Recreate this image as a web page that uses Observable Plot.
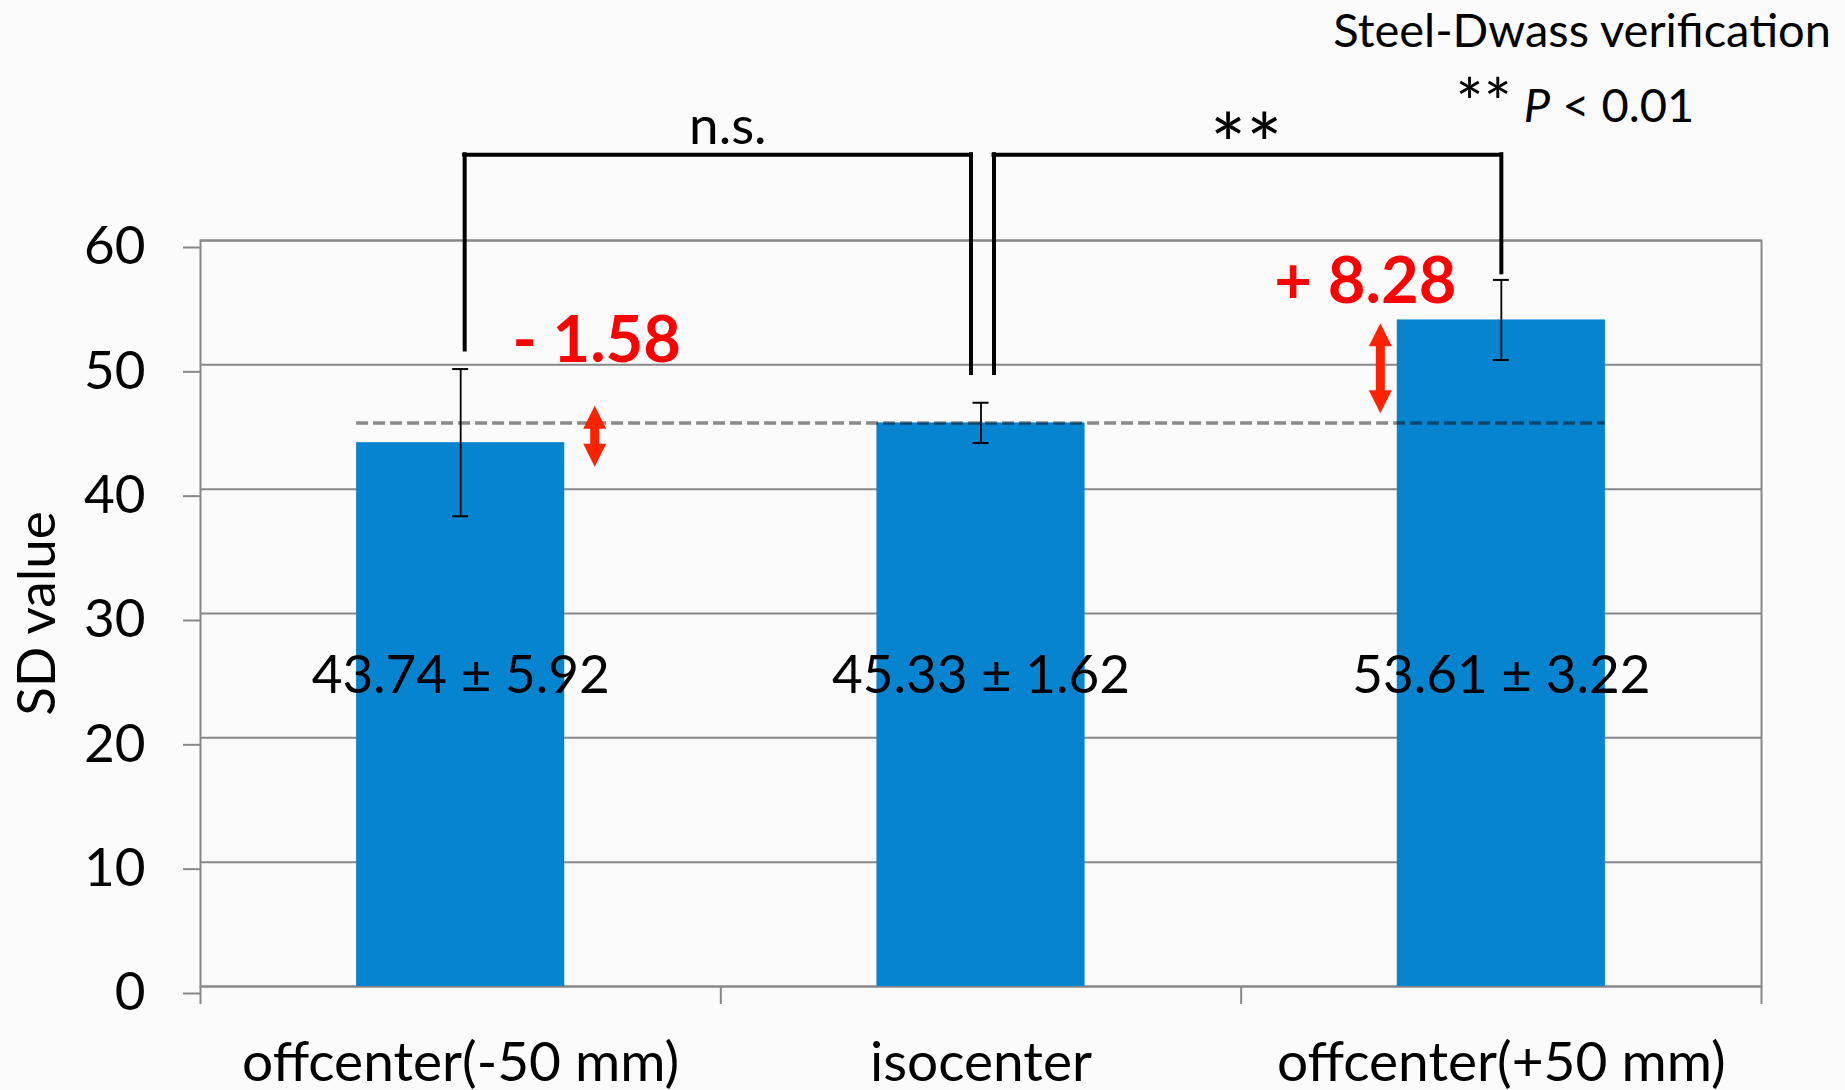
<!DOCTYPE html>
<html>
<head>
<meta charset="utf-8">
<script src="https://cdn.jsdelivr.net/npm/d3@7"></script>
<script src="https://cdn.jsdelivr.net/npm/@observablehq/plot@0.6"></script>
<style>
  html, body { margin: 0; padding: 0; background: #fbfbfb; }
  #chart { width: 1845px; height: 1090px; }
  #chart svg { font-family: Lato, "Open Sans", sans-serif; }
</style>
</head>
<body>
<div id="chart"></div>
<script>
// ---------------- data ----------------
const categories = ["offcenter(-50 mm)", "isocenter", "offcenter(+50 mm)"];
const means = [43.74, 45.33, 53.61];
const sds = [5.92, 1.62, 3.22];
const yTicks = [0, 10, 20, 30, 40, 50, 60];
const referenceIndex = 1;                 // isocenter is the reference
const diffLabels = ["- 1.58", "+ 8.28"];
const diffCategory = [0, 2];
const diffArrowLow = [41.8, 46.1];         // arrow tips
const diffArrowHigh = [46.7, 53.35];
const diffLabelBaseline = [50.2, 54.95];
const comparisonFrom = [0, 1];
const comparisonTo = [1, 2];
const comparisonLabels = ["n.s.", "**"];
const bracketTop = 66.9;
const bracketLegBottomFrom = [51.2, 49.3];
const bracketLegBottomTo = [49.3, 57.4];
const valueLabelY = 25;
const yLabel = "SD value";
const testTitle = "Steel-Dwass verification";

// ---------------- styles ----------------
const BAR_HALF = 0.2;             // half bar width, in band units
const BLUE = "#0784d0";
const GRID = "#888888";
const RED_TEXT = "#ff0000";
const RED_ARROW = "#ff2200";
const FS = 53;
const arrowDx = [134, -121];
const diffLabelDx = [136, -136];
const legDxFrom = [4, 13];
const legDxTo = [-10, 0];
const compLabelDx = [7, 5];
const compLabelY = [67.8, 65.15];
const compLabelSize = [53, 85];

const idx = categories.map((_, i) => i);
const center = i => i + 0.5;

const headSymbol = {
  draw(ctx, size) {
    const r = Math.sqrt(size / Math.PI);
    ctx.moveTo(0, 0);
    ctx.lineTo(r, 2 * r);
    ctx.lineTo(-r, 2 * r);
    ctx.closePath();
  }
};

const marks = [
  Plot.gridY(yTicks, {stroke: GRID, strokeOpacity: 1, strokeWidth: 2}),
  Plot.frame({stroke: GRID, strokeWidth: 2}),
  Plot.axisY(yTicks, {tickSize: 17, tickPadding: 38, fontSize: FS, stroke: GRID, strokeWidth: 2, fill: "#000", dy: 7, label: null}),
  Plot.axisX([0, 1, 2, 3], {tickSize: 18, tickFormat: () => "", stroke: GRID, strokeWidth: 2, label: null}),
  Plot.text(idx, {x: center, text: i => categories[i], frameAnchor: "bottom", lineAnchor: "top", dy: 55, fontSize: 55, fill: "#000"}),
  Plot.text([yLabel], {frameAnchor: "left", textAnchor: "middle", rotate: -90, dx: -162, fontSize: FS, fill: "#000"}),
  Plot.rect(idx, {x1: i => center(i) - BAR_HALF, x2: i => center(i) + BAR_HALF, y1: 0, y2: i => means[i], fill: BLUE}),
  Plot.ruleY([means[referenceIndex]], {
    x1: center(0) - BAR_HALF, x2: center(categories.length - 1) + BAR_HALF,
    stroke: "#000", strokeOpacity: 0.45, strokeWidth: 3.5, strokeDasharray: "12,5"
  }),
  Plot.ruleX(idx, {x: center, y1: i => means[i] - sds[i], y2: i => means[i] + sds[i], stroke: "#000", strokeWidth: 1.8}),
  Plot.ruleY(idx, {x1: center, x2: center, y: i => means[i] - sds[i], insetLeft: -8, insetRight: -8, stroke: "#000", strokeWidth: 2}),
  Plot.ruleY(idx, {x1: center, x2: center, y: i => means[i] + sds[i], insetLeft: -8, insetRight: -8, stroke: "#000", strokeWidth: 2}),
  Plot.text(idx, {x: center, y: valueLabelY, text: i => `${means[i].toFixed(2)} ± ${sds[i].toFixed(2)}`, fontSize: FS, fill: "#000"})
];

// difference arrows and labels
diffLabels.forEach((label, k) => {
  const c = diffCategory[k];
  marks.push(
    Plot.ruleX([k], {x: center(c), y1: diffArrowHigh[k], y2: diffArrowLow[k], insetTop: 20, insetBottom: 20, stroke: RED_ARROW, strokeWidth: 9, dx: arrowDx[k]}),
    Plot.dot([k], {x: center(c), y: diffArrowHigh[k], symbol: headSymbol, r: 11.5, fill: RED_ARROW, stroke: null, dx: arrowDx[k]}),
    Plot.dot([k], {x: center(c), y: diffArrowLow[k], symbol: headSymbol, r: 11.5, rotate: 180, fill: RED_ARROW, stroke: null, dx: arrowDx[k]}),
    Plot.text([label], {x: center(c), y: diffLabelBaseline[k], lineAnchor: "bottom", fontSize: 65, fontWeight: "bold", fill: RED_TEXT, dx: diffLabelDx[k]})
  );
});

// comparison brackets
comparisonLabels.forEach((label, k) => {
  const a = center(comparisonFrom[k]), b = center(comparisonTo[k]);
  marks.push(
    Plot.ruleX([k], {x: a, y1: bracketLegBottomFrom[k], y2: bracketTop, stroke: "#000", strokeWidth: 4, dx: legDxFrom[k], strokeLinecap: "square"}),
    Plot.ruleX([k], {x: b, y1: bracketLegBottomTo[k], y2: bracketTop, stroke: "#000", strokeWidth: 4, dx: legDxTo[k], strokeLinecap: "square"}),
    Plot.ruleY([bracketTop], {x1: a, x2: b, insetLeft: legDxFrom[k], insetRight: -legDxTo[k], stroke: "#000", strokeWidth: 4, strokeLinecap: "square"}),
    Plot.text([label], {x: (a + b) / 2, y: compLabelY[k], lineAnchor: "bottom", fontSize: compLabelSize[k], fill: "#000", dx: compLabelDx[k]})
  );
});

const chart = Plot.plot({
  width: 1845,
  height: 1090,
  marginTop: 240,
  marginBottom: 104,
  marginLeft: 200,
  marginRight: 84,
  x: {domain: [0, 3]},
  y: {domain: [0, 60]},
  style: {background: "transparent", fontFamily: "Lato, 'Open Sans', sans-serif", color: "#000", overflow: "visible"},
  marks
});

// significance legend (top right)
const svg = d3.select(chart);
svg.append("text")
  .attr("x", 1831).attr("y", 47)
  .attr("text-anchor", "end")
  .attr("font-size", 47)
  .attr("fill", "#000")
  .text(testTitle);
const sig = svg.append("text")
  .attr("x", 1575).attr("y", 122)
  .attr("text-anchor", "middle")
  .attr("font-size", 47)
  .attr("fill", "#000");
sig.append("tspan").attr("font-size", 66).attr("dy", 5).text("**");
sig.append("tspan").attr("dy", -5).text(" ");
sig.append("tspan").attr("font-style", "italic").text("P");
sig.append("tspan").text(" < 0.01");

document.getElementById("chart").appendChild(chart);
</script>
</body>
</html>
